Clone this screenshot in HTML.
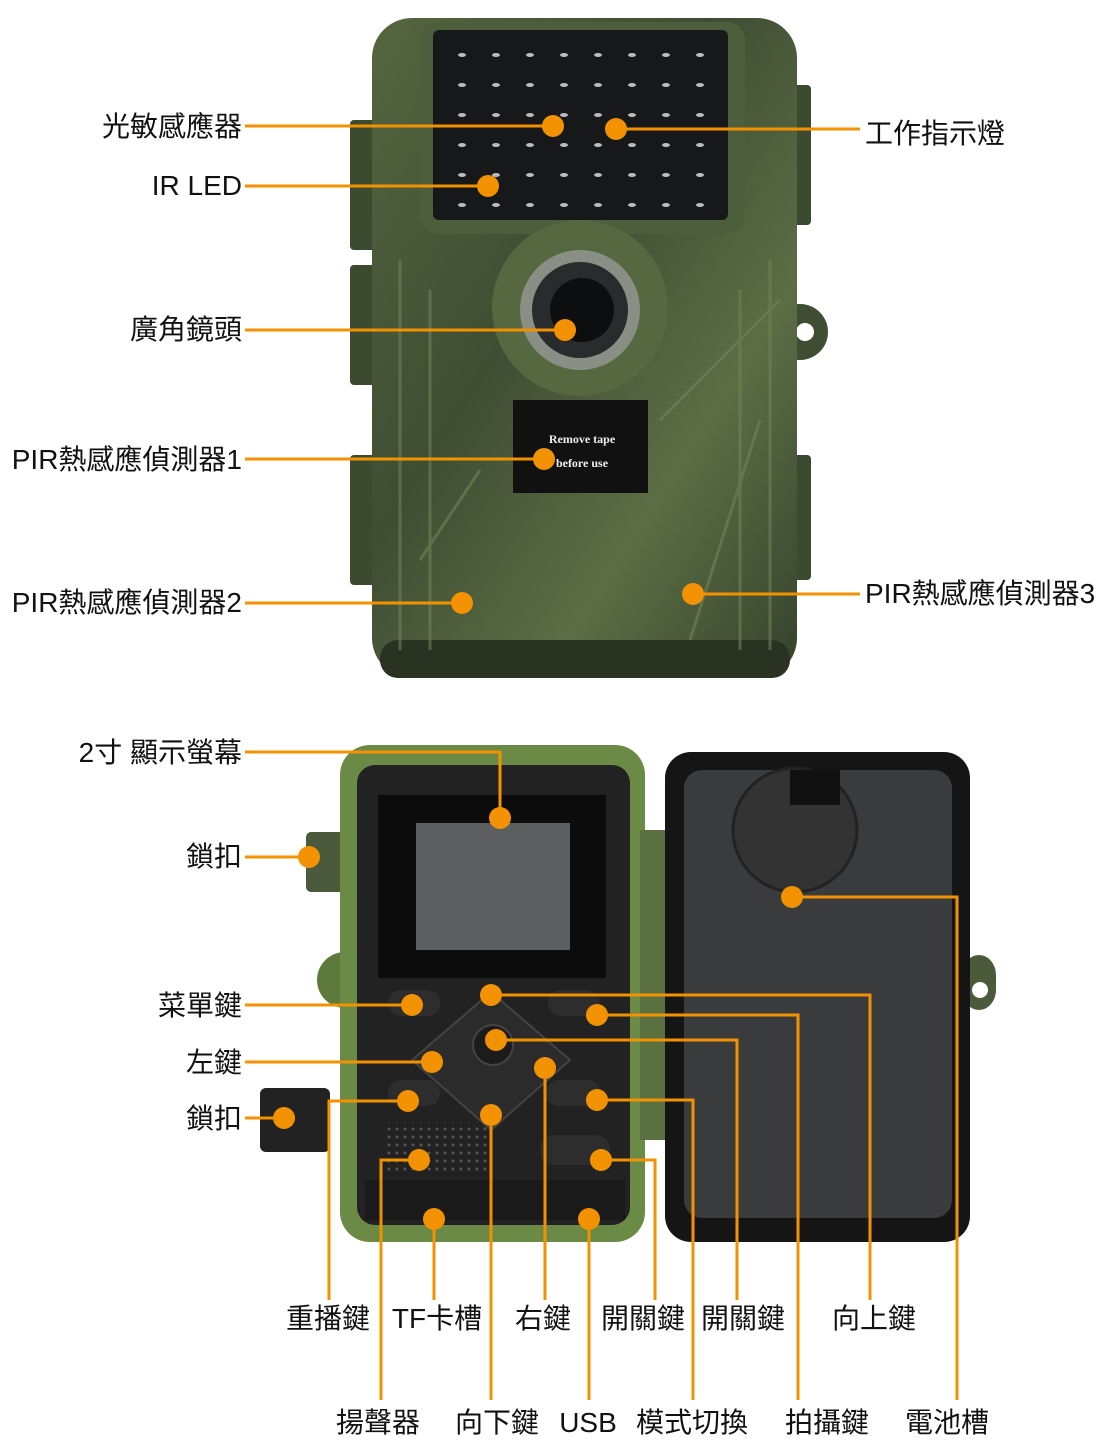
<!DOCTYPE html>
<html><head><meta charset="utf-8"><style>
html,body{margin:0;padding:0;background:#fff;}
svg{display:block}
text{font-family:"Liberation Sans","Noto Sans CJK TC",sans-serif;font-size:28px;fill:#111;}
</style></head><body>
<svg width="1106" height="1440" viewBox="0 0 1106 1440">
<defs>
<linearGradient id="camo" x1="0" y1="0" x2="1" y2="1">
<stop offset="0" stop-color="#55663f"/><stop offset="0.4" stop-color="#3f4d33"/><stop offset="0.7" stop-color="#5b6e45"/><stop offset="1" stop-color="#36422c"/>
</linearGradient>
<pattern id="leds" x="450" y="45" width="34" height="30" patternUnits="userSpaceOnUse">
<ellipse cx="12" cy="10" rx="4" ry="2" fill="#bbb"/>
</pattern>
<pattern id="spk" x="385" y="1125" width="8" height="8" patternUnits="userSpaceOnUse">
<circle cx="4" cy="4" r="1.5" fill="#555"/>
</pattern>
</defs>
<!-- TOP CAMERA -->
<rect x="350" y="120" width="40" height="130" rx="4" fill="#3c4a30"/>
<rect x="350" y="265" width="40" height="120" rx="4" fill="#3c4a30"/>
<rect x="350" y="455" width="40" height="130" rx="4" fill="#3c4a30"/>
<rect x="775" y="85" width="36" height="140" rx="4" fill="#3c4a30"/>
<rect x="775" y="455" width="36" height="125" rx="4" fill="#3c4a30"/>
<circle cx="800" cy="332" r="28" fill="#3f4d33"/><circle cx="805" cy="332" r="9" fill="#fff"/>
<rect x="372" y="18" width="425" height="660" rx="40" fill="url(#camo)"/>
<rect x="380" y="640" width="410" height="38" rx="18" fill="#2a3222"/>
<rect x="420" y="22" width="325" height="212" rx="18" fill="#4d5e3c"/>
<rect x="433" y="30" width="295" height="190" rx="6" fill="#16181a"/>
<rect x="448" y="42" width="272" height="170" fill="url(#leds)"/>
<circle cx="580" cy="308" r="88" fill="#55683f"/>
<circle cx="580" cy="310" r="60" fill="#8a8f86"/>
<circle cx="580" cy="310" r="48" fill="#2a2b2c"/>
<circle cx="582" cy="310" r="32" fill="#0d0e10"/>
<rect x="513" y="400" width="135" height="93" fill="#111"/>
<text x="582" y="443" text-anchor="middle" style="font-family:'Liberation Serif',serif;font-size:12px;font-weight:bold;fill:#eee">Remove tape</text>
<text x="582" y="467" text-anchor="middle" style="font-family:'Liberation Serif',serif;font-size:12px;font-weight:bold;fill:#eee">before use</text>
<g fill="none" stroke="#6f8456" stroke-width="3" opacity="0.6">
<path d="M400 260 L400 650 M430 290 L430 650 M740 290 L740 650 M770 260 L770 650"/>
<path d="M660 420 L780 300 M690 640 L760 420 M420 560 L480 470"/>
</g>
<!-- BOTTOM LEFT UNIT -->
<rect x="306" y="832" width="40" height="60" rx="5" fill="#4a5a3a"/>
<rect x="260" y="1088" width="70" height="64" rx="6" fill="#222"/>
<circle cx="345" cy="980" r="28" fill="#5d7a3c"/>
<rect x="340" y="745" width="305" height="497" rx="30" fill="#6a8a45"/>
<rect x="357" y="765" width="273" height="460" rx="18" fill="#222"/>
<rect x="640" y="830" width="30" height="310" fill="#5a7040"/>
<rect x="378" y="795" width="228" height="183" fill="#0c0c0c"/>
<rect x="416" y="823" width="154" height="127" fill="#5c5e60"/>
<polygon points="491,992 570,1060 491,1130 412,1060" fill="#2b2b2b" stroke="#444" stroke-width="2"/>
<circle cx="493" cy="1045" r="20" fill="#1c1c1c" stroke="#444" stroke-width="2"/>
<rect x="388" y="990" width="52" height="26" rx="13" fill="#2d2d2d"/>
<rect x="548" y="990" width="52" height="26" rx="13" fill="#2d2d2d"/>
<rect x="388" y="1080" width="52" height="26" rx="13" fill="#2d2d2d"/>
<rect x="546" y="1080" width="54" height="26" rx="13" fill="#2d2d2d"/>
<rect x="540" y="1135" width="70" height="30" rx="14" fill="#2d2d2d"/>
<rect x="383" y="1122" width="105" height="50" fill="url(#spk)"/>
<rect x="365" y="1180" width="260" height="40" fill="#1a1a1a"/>
<!-- RIGHT DOOR -->
<rect x="962" y="955" width="34" height="55" rx="20" fill="#4c5a3c"/><circle cx="980" cy="990" r="8" fill="#fff"/>
<rect x="665" y="752" width="305" height="490" rx="26" fill="#151515"/>
<rect x="684" y="770" width="268" height="448" rx="18" fill="#3a3b3c"/>
<circle cx="795" cy="830" r="62" fill="#333" stroke="#222" stroke-width="3"/>
<rect x="790" y="770" width="50" height="35" fill="#111"/>
<!-- CONNECTORS -->
<g stroke="#f39200" stroke-width="3" fill="none">
<path d="M245 126 H553 M616 129 H860 M245 186 H488 M245 330 H565 M245 459 H544 M245 603 H462 M693 594 H860"/>
<path d="M245 752 H500 V818 M245 857 H309 M245 1005 H412 M245 1062 H432 M245 1118 H284"/>
<path d="M408 1101 H329 V1300 M419 1160 H381 V1400 M434 1219 V1300 M491 1115 V1400 M545 1068 V1300 M589 1219 V1400"/>
<path d="M601 1160 H655 V1300 M597 1100 H693 V1400 M496 1040 H737 V1300 M597 1015 H798 V1400 M491 995 H870 V1300 M792 897 H957 V1400"/>
</g>
<g fill="#f39200">
<circle cx="553" cy="126" r="11"/><circle cx="616" cy="129" r="11"/><circle cx="488" cy="186" r="11"/><circle cx="565" cy="330" r="11"/><circle cx="544" cy="459" r="11"/><circle cx="462" cy="603" r="11"/><circle cx="693" cy="594" r="11"/>
<circle cx="500" cy="818" r="11"/><circle cx="309" cy="857" r="11"/><circle cx="412" cy="1005" r="11"/><circle cx="432" cy="1062" r="11"/><circle cx="284" cy="1118" r="11"/>
<circle cx="408" cy="1101" r="11"/><circle cx="419" cy="1160" r="11"/><circle cx="434" cy="1219" r="11"/><circle cx="491" cy="1115" r="11"/><circle cx="545" cy="1068" r="11"/><circle cx="589" cy="1219" r="11"/>
<circle cx="601" cy="1160" r="11"/><circle cx="597" cy="1100" r="11"/><circle cx="496" cy="1040" r="11"/><circle cx="597" cy="1015" r="11"/><circle cx="491" cy="995" r="11"/><circle cx="792" cy="897" r="11"/>
</g>
<!-- LABELS -->
<g text-anchor="end">
<text x="242" y="136">光敏感應器</text>
<text x="242" y="195">IR LED</text>
<text x="242" y="339">廣角鏡頭</text>
<text x="242" y="469">PIR熱感應偵測器1</text>
<text x="242" y="612">PIR熱感應偵測器2</text>
<text x="242" y="762">2寸 顯示螢幕</text>
<text x="242" y="866">鎖扣</text>
<text x="242" y="1015">菜單鍵</text>
<text x="242" y="1072">左鍵</text>
<text x="242" y="1128">鎖扣</text>
</g>
<text x="865" y="143">工作指示燈</text>
<text x="865" y="603">PIR熱感應偵測器3</text>
<g text-anchor="middle">
<text x="328" y="1328">重播鍵</text>
<text x="437" y="1328">TF卡槽</text>
<text x="543" y="1328">右鍵</text>
<text x="643" y="1328">開關鍵</text>
<text x="743" y="1328">開關鍵</text>
<text x="874" y="1328">向上鍵</text>
<text x="378" y="1432">揚聲器</text>
<text x="497" y="1432">向下鍵</text>
<text x="588" y="1432">USB</text>
<text x="692" y="1432">模式切換</text>
<text x="827" y="1432">拍攝鍵</text>
<text x="947" y="1432">電池槽</text>
</g>
</svg>
</body></html>
